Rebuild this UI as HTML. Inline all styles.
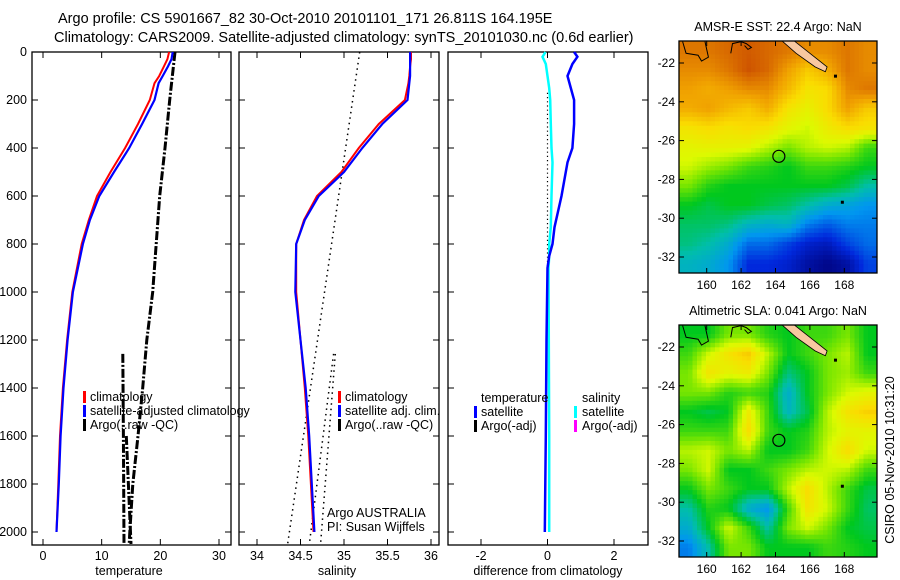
<!DOCTYPE html>
<html><head><meta charset="utf-8">
<style>
html,body{margin:0;padding:0;background:#fff;}
svg{display:block;font-family:"Liberation Sans",sans-serif;}
text{fill:#000;}
</style></head>
<body>
<svg id="c" width="900" height="580" viewBox="0 0 900 580" xmlns="http://www.w3.org/2000/svg">
<defs>
<clipPath id="clipTop"><rect x="679" y="41" width="198" height="232"/></clipPath>
<clipPath id="clipBot"><rect x="679" y="325" width="198" height="232"/></clipPath>
</defs>
<text x="58" y="23" font-size="14.5">Argo profile: CS 5901667_82 30-Oct-2010 20101101_171 26.811S 164.195E</text>
<text x="54" y="42" font-size="14.5">Climatology: CARS2009. Satellite-adjusted climatology: synTS_20101030.nc (0.6d earlier)</text>
<g id="g"></g>
</svg>
<script>
// ---------- data ----------
const depthTicks=[0,200,400,600,800,1000,1200,1400,1600,1800,2000];
const tempTicks=[0,10,20,30];
const salTicks=[34,34.5,35,35.5,36];
const salTickLabels=['34','34.5','35','35.5','36'];
const diffTicks=[-2,0,2];
const latTicks=[-22,-24,-26,-28,-30,-32];
const lonTicks=[160,162,164,166,168];

const climDepth=[0,30,60,100,130,200,300,400,500,600,700,800,1000,1200,1400,1600,1800,2000];
const climTemp=[21.5,21.2,20.6,19.8,19.0,18.2,16.2,14.0,11.5,9.2,7.8,6.6,5.0,4.1,3.4,2.9,2.6,2.3];
const satTemp=[22.1,21.9,21.3,20.4,19.7,19.0,16.9,14.7,12.1,9.6,8.0,6.8,5.1,4.2,3.5,3.0,2.7,2.3];
const climSal=[35.77,35.77,35.76,35.75,35.74,35.70,35.40,35.17,34.97,34.69,34.54,34.45,34.45,34.50,34.55,34.59,34.62,34.65];
const satSal=[35.76,35.76,35.76,35.76,35.75,35.73,35.44,35.21,35.00,34.71,34.55,34.45,34.44,34.50,34.56,34.60,34.63,34.66];

const argoDepthA=[0,200,400,600,800,1000,1200,1400,1600,1800,2000,2050];
const argoTempA=[22.5,21.6,20.8,19.9,19.3,18.7,17.7,17.0,16.2,15.3,14.8,14.7];
const argoDepthB=[1258,1600,2050];
const argoTempB=[13.6,13.7,13.8];
const argoDepthC=[1600,2050];
const argoTempC=[14.2,15.0];

const argoSalDepth1=[0,2054];
const argoSal1=[35.18,34.35];
const argoSalDepth2=[1258,2054];
const argoSal2=[34.88,34.6];
const argoSalDepth3=[1258,2054];
const argoSal3=[34.9,34.73];

const diffDepth=[0,20,50,100,150,200,300,400,460,600,730,800,850,900,1200,1600,2000];
const diffTempSat=[0.8,0.9,0.75,0.6,0.7,0.8,0.8,0.75,0.6,0.42,0.21,0.15,0.05,0.0,-0.03,-0.05,-0.08];
const diffSalSat=[-0.06,-0.15,-0.05,0.0,0.05,0.08,0.1,0.12,0.15,0.12,0.1,0.05,0.05,0.03,0.04,0.05,0.05];

const sstGrid=[
[.88,.88,.9,.92,.9,.88,.85,.85,.88,.85],
[.85,.85,.88,.93,.9,.82,.75,.8,.88,.85],
[.82,.8,.82,.85,.85,.78,.7,.72,.85,.88],
[.8,.82,.78,.75,.8,.7,.66,.72,.82,.75],
[.7,.72,.7,.72,.7,.65,.62,.68,.72,.7],
[.65,.66,.66,.65,.6,.55,.6,.62,.6,.5],
[.62,.58,.55,.5,.48,.45,.5,.5,.48,.45],
[.55,.48,.45,.45,.45,.45,.45,.45,.42,.35],
[.45,.42,.45,.45,.42,.4,.35,.3,.28,.25],
[.4,.4,.38,.32,.3,.32,.22,.18,.22,.22],
[.38,.35,.3,.2,.2,.15,.1,.08,.15,.2],
[.32,.3,.25,.12,.12,.1,.05,.02,.05,.15]];
const slaGrid=[
[.45,.45,.55,.55,.48,.45,.5,.5,.55,.45],
[.5,.62,.7,.75,.6,.45,.5,.55,.6,.45],
[.55,.7,.65,.68,.55,.38,.45,.55,.58,.5],
[.55,.55,.48,.5,.48,.3,.45,.55,.62,.65],
[.45,.42,.45,.68,.5,.32,.42,.6,.7,.74],
[.5,.5,.5,.72,.5,.45,.48,.6,.65,.65],
[.6,.62,.55,.6,.45,.45,.5,.62,.72,.62],
[.55,.62,.45,.45,.5,.55,.6,.62,.6,.5],
[.45,.55,.5,.45,.45,.6,.72,.6,.5,.42],
[.35,.48,.45,.3,.25,.5,.7,.62,.5,.4],
[.3,.45,.62,.5,.35,.55,.62,.55,.45,.42],
[.22,.35,.55,.55,.45,.45,.45,.5,.48,.45]];
const argoLon=164.195, argoLat=-26.811;

// ---------- helpers ----------
const NS='http://www.w3.org/2000/svg';
const G=document.getElementById('g');
function el(tag,attrs,parent){const e=document.createElementNS(NS,tag);for(const k in attrs)e.setAttribute(k,attrs[k]);(parent||G).appendChild(e);return e;}
const TOP=52,BOT=545;
const yD=d=>TOP+d*0.24;
function lin(d0,d1,r0,r1){return v=>r0+(v-d0)*(r1-r0)/(d1-d0);}
const xT=lin(0,30,43,219);
const xS=lin(34,36,257,431);
const xDf=lin(-2,2,481,614);

function poly(xs,ds,xf,style,name){
  const pts=xs.map((v,i)=>xf(v).toFixed(1)+','+yD(ds[i]).toFixed(1)).join(' ');
  const p=el('polyline',Object.assign({points:pts,fill:'none'},style));
  
  
}
function frame(x0,x1,name){
  const r=el('rect',{x:x0,y:TOP,width:x1-x0,height:BOT-TOP,fill:'none',stroke:'#000','stroke-width':1.3});
  
  
  depthTicks.forEach(d=>{
    el('line',{x1:x0,x2:x0+6,y1:yD(d),y2:yD(d),stroke:'#000'});
    el('line',{x1:x1-6,x2:x1,y1:yD(d),y2:yD(d),stroke:'#000'});
  });
}
function xticks(ticks,labels,xf,name){
  ticks.forEach((t,i)=>{
    el('line',{x1:xf(t),x2:xf(t),y1:TOP,y2:TOP+6,stroke:'#000'});
    el('line',{x1:xf(t),x2:xf(t),y1:BOT-6,y2:BOT,stroke:'#000'});
    const tx=el('text',{x:xf(t),y:BOT+15,'font-size':12.5,'text-anchor':'middle'});
    tx.textContent=labels[i];
    
    
  });
}
function txt(x,y,s,name,size,anchor){
  const t=el('text',{x:x,y:y,'font-size':size||12.5,'text-anchor':anchor||'start'});
  t.textContent=s;
  
  
  return t;
}
function legBar(x,y,color,name){
  const r=el('rect',{x:x,y:y-10,width:3,height:12,fill:color});
  
  
}

// ---------- panel 1: temperature ----------
frame(32,231,'temperature-panel');
depthTicks.forEach(d=>{txt(27,yD(d)+4,String(d),'depth-tick-label',12.5,'end');});
xticks(tempTicks,tempTicks.map(String),xT,'temperature-tick-label');
txt(129,575,'temperature','temperature-axis-title',12.5,'middle');
poly(argoTempA,argoDepthA,xT,{stroke:'#000','stroke-width':3,'stroke-dasharray':'9,2,2,2'},'argo-temperature-line');
poly(argoTempB,argoDepthB,xT,{stroke:'#000','stroke-width':3,'stroke-dasharray':'9,2,2,2'},'argo-temperature-line-2');
poly(argoTempC,argoDepthC,xT,{stroke:'#000','stroke-width':3,'stroke-dasharray':'9,2,2,2'},'argo-temperature-line-3');
poly(climTemp,climDepth,xT,{stroke:'#f00','stroke-width':2},'climatology-temperature-line');
poly(satTemp,climDepth,xT,{stroke:'#00f','stroke-width':2.2},'satellite-temperature-line');
legBar(83,401,'#f00','legend-climatology-swatch');txt(90,401,'climatology','legend-climatology');
legBar(83,415,'#00f','legend-satellite-swatch');txt(90,415,'satellite-adjusted climatology','legend-satellite-adjusted');
legBar(83,429,'#000','legend-argo-swatch');txt(90,429,'Argo(..raw -QC)','legend-argo');

// ---------- panel 2: salinity ----------
frame(239,439,'salinity-panel');
xticks(salTicks,salTickLabels,xS,'salinity-tick-label');
txt(337,575,'salinity','salinity-axis-title',12.5,'middle');
[[argoSal1,argoSalDepth1],[argoSal2,argoSalDepth2],[argoSal3,argoSalDepth3]].forEach((a,i)=>{
  poly(a[0],a[1],xS,{stroke:'#000','stroke-width':1.5,'stroke-dasharray':'1.5,4'},'argo-salinity-line-'+(i+1));
});
poly(climSal,climDepth,xS,{stroke:'#f00','stroke-width':2},'climatology-salinity-line');
poly(satSal,climDepth,xS,{stroke:'#00f','stroke-width':2.2},'satellite-salinity-line');
legBar(338,401,'#f00','legend-sal-climatology-swatch');txt(345,401,'climatology','legend-sal-climatology');
legBar(338,415,'#00f','legend-sal-satellite-swatch');txt(345,415,'satellite adj. clim.','legend-sal-satellite');
legBar(338,429,'#000','legend-sal-argo-swatch');txt(345,429,'Argo(..raw -QC)','legend-sal-argo');
txt(327,517,'Argo AUSTRALIA','argo-australia-label');
txt(327,531,'PI: Susan Wijffels','pi-label');

// ---------- panel 3: difference ----------
frame(448,648,'difference-panel');
xticks(diffTicks,diffTicks.map(String),xDf,'difference-tick-label');
txt(548,575,'difference from climatology','difference-axis-title',12.5,'middle');
poly([0,0],[170,1000],xDf,{stroke:'#000','stroke-width':1.2,'stroke-dasharray':'1.2,3'},'zero-reference-line');
poly(diffSalSat,diffDepth,xDf,{stroke:'#0ff','stroke-width':2.5},'salinity-satellite-difference-line');
poly(diffTempSat,diffDepth,xDf,{stroke:'#00f','stroke-width':2.5},'temperature-satellite-difference-line');
txt(481,402,'temperature','legend-diff-temperature-header');
legBar(474,416,'#00f','legend-diff-temp-satellite-swatch');txt(481,416,'satellite','legend-diff-temp-satellite');
legBar(474,430,'#000','legend-diff-temp-argo-swatch');txt(481,430,'Argo(-adj)','legend-diff-temp-argo');
txt(582,402,'salinity','legend-diff-salinity-header');
legBar(574,416,'#0ff','legend-diff-sal-satellite-swatch');txt(582,416,'satellite','legend-diff-sal-satellite');
legBar(574,430,'#f0f','legend-diff-sal-argo-swatch');txt(582,430,'Argo(-adj)','legend-diff-sal-argo');

// ---------- maps ----------
const stops=[[0,[0,0,120]],[0.12,[0,40,220]],[0.25,[0,150,240]],[0.35,[0,190,170]],[0.45,[0,200,30]],[0.55,[120,230,0]],[0.63,[220,250,0]],[0.72,[250,220,0]],[0.82,[240,160,0]],[0.95,[200,70,0]],[1,[180,40,0]]];
function cmap(v){for(let i=1;i<stops.length;i++){if(v<=stops[i][0]){const a=stops[i-1],b=stops[i];const f=(v-a[0])/(b[0]-a[0]);const c=a[1].map((q,k)=>Math.round(q+(b[1][k]-q)*f));return 'rgb('+c.join(',')+')';}}return 'rgb(180,40,0)';}
function sample(grid,fx,fy){
  const rows=grid.length,cols=grid[0].length;
  const gx=Math.min(cols-1,Math.max(0,fx*cols-0.5)),gy=Math.min(rows-1,Math.max(0,fy*rows-0.5));
  const x0=Math.floor(gx),y0=Math.floor(gy),x1=Math.min(cols-1,x0+1),y1=Math.min(rows-1,y0+1);
  const tx=gx-x0,ty=gy-y0;
  const a=grid[y0][x0]*(1-tx)+grid[y0][x1]*tx,b=grid[y1][x0]*(1-tx)+grid[y1][x1]*tx;
  return a*(1-ty)+b*ty;
}
function drawMap(y0,lat22y,grid,clip,name,title,titleY){
  const x0=679,w=198,h=232;
  const lonX=lon=>706.7+(lon-160)*17.2;
  const latY=lat=>lat22y+(-22-lat)*19.4;
  const gmap=el('g',{'clip-path':'url(#'+clip+')'});
  
  
  const NX=44,NY=52,cw=w/NX,ch=h/NY;
  for(let r=0;r<NY;r++)for(let c=0;c<NX;c++){
    const v=sample(grid,(c+0.5)/NX,(r+0.5)/NY);
    const cell=el('rect',{x:(x0+c*cw).toFixed(2),y:(y0+r*ch).toFixed(2),width:(cw+0.4).toFixed(2),height:(ch+0.4).toFixed(2),fill:cmap(v)},gmap);
    
    
  }
  const isl=el('polygon',{points:[[164.3,-20.8],[165.0,-20.8],[166.0,-21.5],[167.0,-22.2],[166.9,-22.45],[166.3,-22.2],[165.2,-21.5]].map(p=>lonX(p[0])+','+latY(p[1])).join(' '),fill:'#f8c8a0',stroke:'#000','stroke-width':0.8},gmap);
  
  
  el('polyline',{points:[[158.6,-20.9],[158.8,-21.5],[159.5,-21.6],[159.7,-21.9],[160.1,-21.7],[159.9,-20.9]].map(p=>lonX(p[0])+','+latY(p[1])).join(' '),fill:'none',stroke:'#000','stroke-width':1},gmap);
  el('polyline',{points:[[161.4,-21.5],[161.5,-21.0],[162.0,-20.9],[162.3,-21.0],[162.6,-21.2],[162.4,-21.3],[162.2,-21.1]].map(p=>lonX(p[0])+','+latY(p[1])).join(' '),fill:'none',stroke:'#000','stroke-width':1},gmap);
  el('rect',{x:lonX(167.4),y:latY(-22.6),width:3,height:3,fill:'#000'},gmap);
  el('rect',{x:lonX(167.8),y:latY(-29.1),width:3,height:3,fill:'#000'},gmap);
  const fr=el('rect',{x:x0,y:y0,width:w,height:h,fill:'none',stroke:'#000','stroke-width':1.3});
  
  
  const ci=el('circle',{cx:lonX(argoLon),cy:latY(argoLat),r:6,fill:'none',stroke:'#000','stroke-width':1.2});
  
  
  latTicks.forEach(l=>{const y=latY(l);el('line',{x1:x0,x2:x0+5,y1:y,y2:y,stroke:'#000'});el('line',{x1:x0+w-5,x2:x0+w,y1:y,y2:y,stroke:'#000'});txt(x0-4,y+4,String(l),'latitude-tick-label',12,'end');});
  lonTicks.forEach(l=>{const x=lonX(l);el('line',{x1:x,x2:x,y1:y0,y2:y0+5,stroke:'#000'});el('line',{x1:x,x2:x,y1:y0+h-5,y2:y0+h,stroke:'#000'});txt(x,y0+h+16,String(l),'longitude-tick-label',12,'middle');});
  txt(778,titleY,title,name+'-title',12.5,'middle');
}
drawMap(41,63,sstGrid,'clipTop','sst-map','AMSR-E SST: 22.4 Argo: NaN',31);
drawMap(325,347,slaGrid,'clipBot','sla-map','Altimetric SLA: 0.041 Argo: NaN',315);
const ts=txt(0,0,'CSIRO 05-Nov-2010 10:31:20','timestamp-label',12.5,'middle');
ts.setAttribute('transform','translate(894,460) rotate(-90)');
</script>
</body></html>
